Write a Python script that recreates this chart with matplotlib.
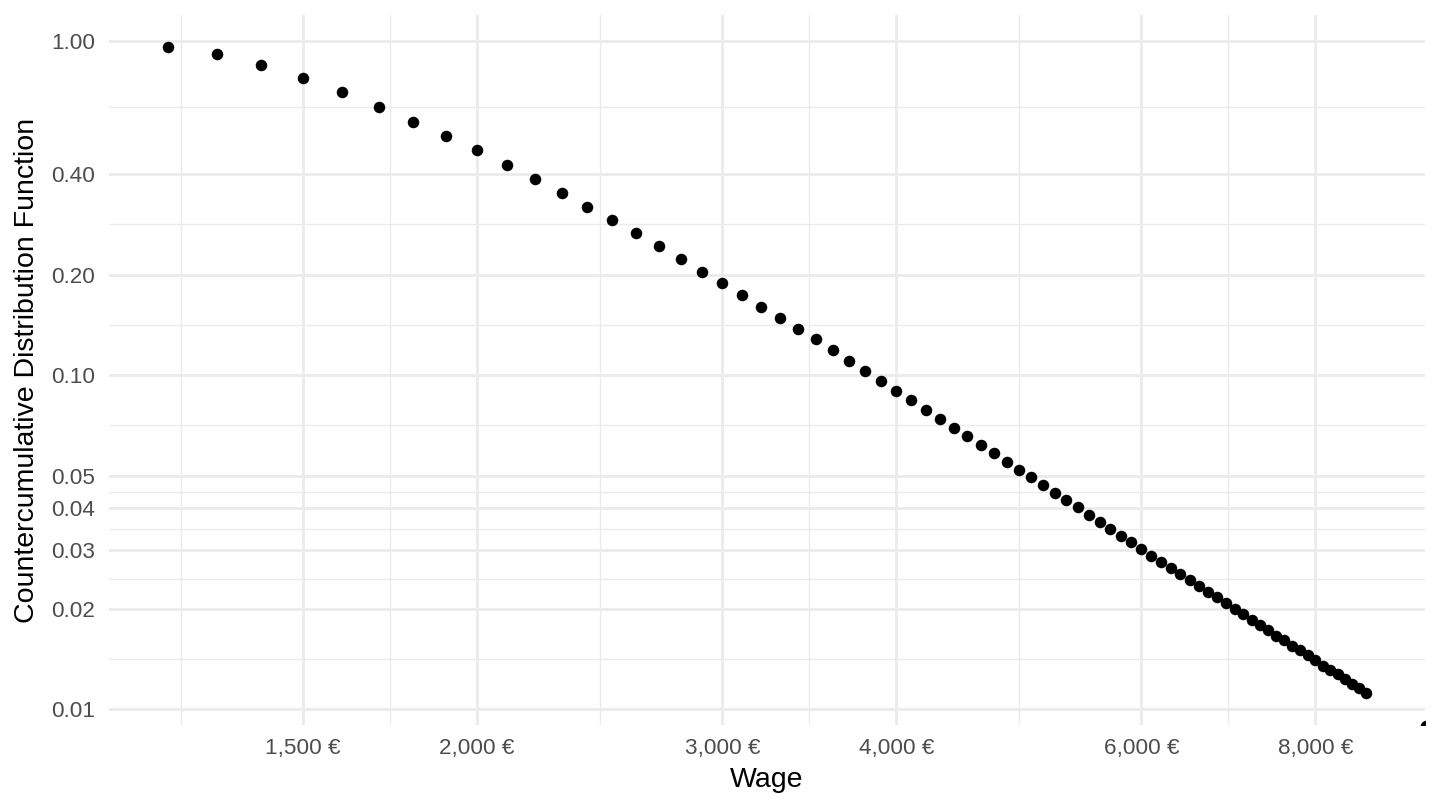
import numpy as np
import matplotlib
matplotlib.use("Agg")
from matplotlib import pyplot as plt
from matplotlib.ticker import FixedLocator, FuncFormatter, NullFormatter

plt.rcParams['font.family'] = ['Liberation Sans', 'DejaVu Sans']

# wages (EUR) and countercumulative distribution
wage = [1200, 1300, 1400, 1500, 1600, 1700, 1800, 1900, 2000, 2100,
        2200, 2300, 2400, 2500, 2600, 2700, 2800, 2900, 3000, 3100,
        3200, 3300, 3400, 3500, 3600, 3700, 3800, 3900, 4000, 4100,
        4200, 4300, 4400, 4500, 4600, 4700, 4800, 4900, 5000, 5100,
        5200, 5300, 5400, 5500, 5600, 5700, 5800, 5900, 6000, 6100,
        6200, 6300, 6400, 6500, 6600, 6700, 6800, 6900, 7000, 7100,
        7200, 7300, 7400, 7500, 7600, 7700, 7800, 7900, 8000, 8100,
        8200, 8300, 8400, 8500, 8600, 8700, 9600]
ccdf = [0.961, 0.912, 0.847, 0.776, 0.704, 0.636, 0.574, 0.521, 0.471, 0.426,
        0.386, 0.351, 0.319, 0.291, 0.266, 0.243, 0.2225, 0.204, 0.188, 0.174,
        0.160, 0.148, 0.137, 0.128, 0.119, 0.110, 0.103, 0.096, 0.0897, 0.0840,
        0.0787, 0.0740, 0.0696, 0.0655, 0.0618, 0.0583, 0.0551, 0.0521, 0.0494, 0.0469,
        0.0445, 0.0422, 0.0402, 0.0382, 0.0364, 0.0347, 0.0330, 0.0316, 0.0301, 0.0288,
        0.0276, 0.0264, 0.0254, 0.0243, 0.0234, 0.0224, 0.0216, 0.0208, 0.0200, 0.0192,
        0.0185, 0.0179, 0.0172, 0.0166, 0.0161, 0.0155, 0.0150, 0.0145, 0.0140, 0.0135,
        0.0131, 0.0127, 0.0123, 0.0119, 0.0116, 0.0112, 0.0089]

x_breaks = [1500, 2000, 3000, 4000, 6000, 8000]
x_minor = [1225, 1732, 2449, 3464, 4899, 6928]
y_breaks = [0.01, 0.02, 0.03, 0.04, 0.05, 0.10, 0.20, 0.40, 1.00]
y_minor = [0.01414, 0.02449, 0.03464, 0.04472, 0.07071, 0.1414, 0.2828, 0.6325]

fig = plt.figure(figsize=(14.4, 8.1), dpi=100)
ax = fig.add_axes([0.0757, 0.1049, 0.9139, 0.8765])

ax.plot(wage, ccdf, 'o', color='black', markersize=8.3, markeredgewidth=0, zorder=3)

ax.set_xscale('log')
ax.set_yscale('log')
ax.set_xlim(1088, 9590)
ax.set_ylim(0.00896, 1.196)

ax.xaxis.set_major_locator(FixedLocator(x_breaks))
ax.xaxis.set_minor_locator(FixedLocator(x_minor))
ax.yaxis.set_major_locator(FixedLocator(y_breaks))
ax.yaxis.set_minor_locator(FixedLocator(y_minor))
ax.xaxis.set_major_formatter(FuncFormatter(lambda v, p: f"{v:,.0f} €"))
ax.yaxis.set_major_formatter(FuncFormatter(lambda v, p: f"{v:.2f}"))
ax.xaxis.set_minor_formatter(NullFormatter())
ax.yaxis.set_minor_formatter(NullFormatter())

ax.grid(which='major', color='#EBEBEB', linewidth=2.0)
ax.grid(which='minor', color='#EBEBEB', linewidth=1.0)
ax.set_axisbelow(True)
for s in ax.spines.values():
    s.set_visible(False)

ax.tick_params(which='both', length=0, labelsize=16.2, labelcolor='#4D4D4D')
ax.tick_params(axis='x', pad=9)
ax.tick_params(axis='y', pad=10)

ax.set_xlabel("Wage", fontsize=20.5, labelpad=6)
ax.set_ylabel("Countercumulative Distribution Function", fontsize=20.5, labelpad=8)

plt.savefig("out.png", dpi=100, facecolor='white')
